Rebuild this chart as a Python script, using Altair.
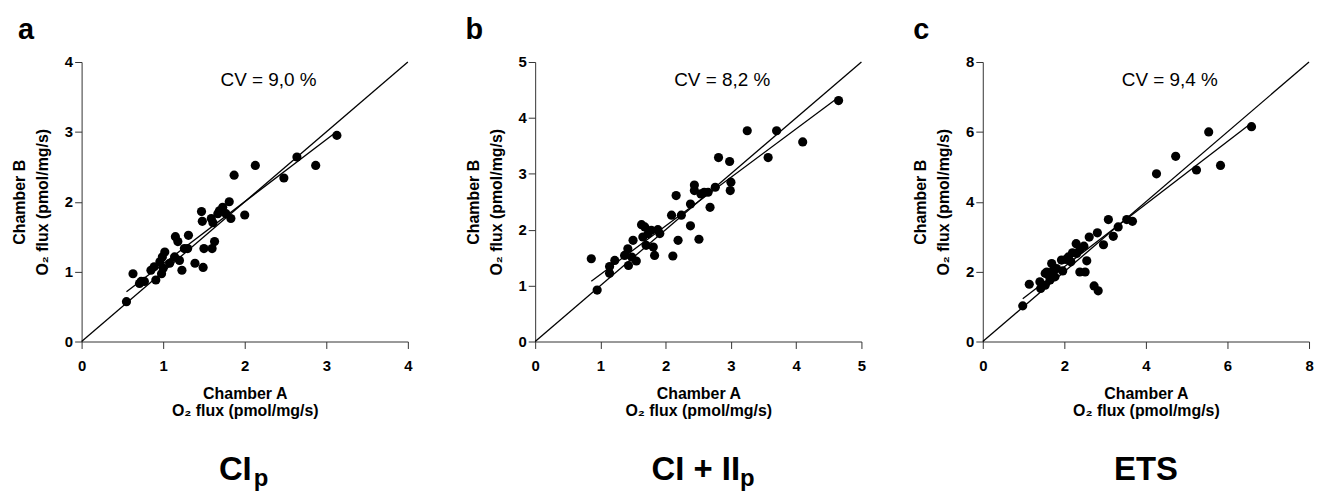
import altair as alt
import pandas as pd

FONT = "Liberation Sans"

# ---------------- data ----------------
a_x = [0.55, 0.63, 0.73, 0.71, 0.77, 0.85, 0.91, 0.89, 0.96, 0.99, 1.02, 0.98, 1.00, 1.08,
       1.15, 1.18, 1.14, 1.20, 1.23, 1.26, 1.31, 1.30, 1.39, 1.49, 1.47, 1.48, 1.50, 1.60,
       1.63, 1.59, 1.61, 1.69, 1.73, 1.81, 1.83, 1.77, 1.87, 2.00, 2.13, 2.48, 2.64, 2.87,
       3.13, 1.67]
a_y = [0.57, 0.97, 0.86, 0.83, 0.86, 1.02, 0.88, 1.07, 1.14, 1.21, 1.28, 0.97, 1.05, 1.12,
       1.50, 1.43, 1.21, 1.16, 1.02, 1.33, 1.52, 1.33, 1.12, 1.06, 1.86, 1.72, 1.33, 1.33,
       1.43, 1.76, 1.70, 1.87, 1.92, 2.00, 1.76, 1.83, 2.38, 1.81, 2.52, 2.34, 2.64, 2.52,
       2.95, 1.83]

b_x = [0.86, 0.95, 1.14, 1.14, 1.22, 1.37, 1.42, 1.43, 1.48, 1.55, 1.50, 1.63, 1.68, 1.65,
       1.70, 1.73, 1.81, 1.83, 1.88, 1.91, 1.78, 2.11, 2.19, 2.09, 2.24, 2.16, 2.38, 2.38,
       2.51, 2.44, 2.44, 2.54, 2.65, 2.68, 2.76, 2.81, 2.98, 3.00, 2.99, 3.25, 3.57, 3.70,
       4.10, 4.65, 2.59]
b_y = [1.48, 0.92, 1.34, 1.22, 1.45, 1.54, 1.66, 1.36, 1.51, 1.44, 1.81, 2.09, 2.05, 1.87,
       1.72, 1.93, 1.69, 1.54, 2.00, 1.93, 1.99, 1.53, 1.81, 2.26, 2.26, 2.61, 2.46, 2.07,
       1.83, 2.80, 2.70, 2.64, 2.67, 2.40, 2.76, 3.29, 3.22, 2.85, 2.70, 3.77, 3.29, 3.77,
       3.57, 4.31, 2.67]

c_x = [0.98, 1.14, 1.40, 1.42, 1.53, 1.57, 1.61, 1.69, 1.73, 1.77, 1.81, 1.96, 2.04, 2.16,
       2.20, 2.29, 2.30, 2.38, 2.48, 2.38, 2.51, 2.55, 2.61, 2.73, 2.83, 2.81, 2.96, 3.08,
       3.20, 3.32, 3.53, 3.67, 4.26, 4.73, 5.24, 5.54, 5.83, 6.59, 2.10, 1.65, 1.53, 1.93]
c_y = [1.02, 1.64, 1.71, 1.52, 1.61, 1.99, 1.90, 2.23, 2.04, 1.85, 2.09, 2.02, 2.35, 2.28,
       2.54, 2.80, 2.52, 2.63, 2.73, 1.99, 1.99, 2.31, 2.99, 1.59, 1.45, 3.11, 2.77, 3.49,
       3.01, 3.28, 3.49, 3.44, 4.80, 5.30, 4.91, 6.00, 5.04, 6.15, 2.42, 1.76, 1.95, 2.33]

axis_max = [4, 5, 8]
tick_values = [[0, 1, 2, 3, 4], [0, 1, 2, 3, 4, 5], [0, 2, 4, 6, 8]]
panel_letters = ["a", "b", "c"]
cv_labels = ["CV = 9,0 %", "CV = 8,2 %", "CV = 9,4 %"]
bottom_main = ["CI", "CI + II", "ETS"]
bottom_sub = ["p", "p", ""]
x_title = ["Chamber A", "O\u2082 flux (pmol/mg/s)"]
y_title = ["Chamber B", "O\u2082 flux (pmol/mg/s)"]

# ---------------- layout ----------------
W, H = 328, 281
LEFT, TOP, BOTTOM = 74, 53, 146
RIGHTS = [54, 48, 0]
LETTER_DX = [-64, -70, -70]
SUB_ANCHOR = [W / 2 + 7, W / 2 + 42, None]
SUB_GAP = [2, 0, 0]


def panel(i, xs, ys):
    df = pd.DataFrame({"A": xs, "B": ys})
    m = axis_max[i]
    diag = pd.DataFrame({"A": [0, m], "B": [0, m]})
    sx = alt.Scale(domain=[0, m], nice=False, zero=True)
    sy = alt.Scale(domain=[0, m], nice=False, zero=True)
    xenc = alt.X("A:Q", scale=sx,
                 axis=alt.Axis(values=tick_values[i], format="d", title=x_title))
    yenc = alt.Y("B:Q", scale=sy,
                 axis=alt.Axis(values=tick_values[i], format="d", title=y_title))

    ident = alt.Chart(diag).mark_line(color="black", strokeWidth=1.3).encode(x=xenc, y=yenc)
    reg = (alt.Chart(df).transform_regression("A", "B")
           .mark_line(color="black", strokeWidth=1.3)
           .encode(x="A:Q", y="B:Q"))
    pts = alt.Chart(df).mark_circle(size=85, color="black", opacity=1).encode(x="A:Q", y="B:Q")

    one = pd.DataFrame({"k": [0]})
    bound = alt.Chart(one).mark_rect(opacity=0).encode(
        x=alt.value(-LEFT), x2=alt.value(W + RIGHTS[i]),
        y=alt.value(-TOP), y2=alt.value(H + BOTTOM))
    letter = alt.Chart(one).mark_text(
        text=panel_letters[i], align="left", baseline="alphabetic",
        font=FONT, fontSize=29, fontWeight="bold", color="black"
    ).encode(x=alt.value(LETTER_DX[i]), y=alt.value(-23))
    cv = alt.Chart(one).mark_text(
        text=cv_labels[i], align="center", baseline="alphabetic",
        font=FONT, fontSize=19, color="black"
    ).encode(x=alt.value(188), y=alt.value(24))

    layers = [bound, ident, reg, pts, letter, cv]
    if bottom_sub[i]:
        main = alt.Chart(one).mark_text(
            text=bottom_main[i], align="right", baseline="alphabetic",
            font=FONT, fontSize=33, fontWeight="bold", color="black"
        ).encode(x=alt.value(SUB_ANCHOR[i]), y=alt.value(H + 139))
        sub = alt.Chart(one).mark_text(
            text=bottom_sub[i], align="left", baseline="alphabetic",
            font=FONT, fontSize=24, fontWeight="bold", color="black"
        ).encode(x=alt.value(SUB_ANCHOR[i] + SUB_GAP[i]), y=alt.value(H + 145))
        layers += [main, sub]
    else:
        main = alt.Chart(one).mark_text(
            text=bottom_main[i], align="center", baseline="alphabetic",
            font=FONT, fontSize=33, fontWeight="bold", color="black"
        ).encode(x=alt.value(W / 2), y=alt.value(H + 139))
        layers += [main]

    return alt.layer(*layers).properties(width=W, height=H)


chart = alt.hconcat(
    panel(0, a_x, a_y), panel(1, b_x, b_y), panel(2, c_x, c_y), spacing=0
).properties(
    padding={"left": 0, "top": 0, "right": 0, "bottom": 0}
).configure_view(stroke=None).configure_axis(
    grid=False,
    domainColor="#333333", tickColor="#333333", domainWidth=1, tickWidth=1,
    tickSize=7, labelFlush=False,
    labelFont=FONT, labelFontSize=15, labelFontWeight="bold", labelColor="black",
    titleFont=FONT, titleFontSize=16, titleFontWeight="bold", titleColor="black",
).configure_axisX(
    labelPadding=10, titlePadding=12, titleLineHeight=17, labelAngle=0
).configure_axisY(
    labelPadding=2, titlePadding=14, titleLineHeight=23
)

chart.save("out.html", embed_options={"renderer": "svg", "actions": False})
